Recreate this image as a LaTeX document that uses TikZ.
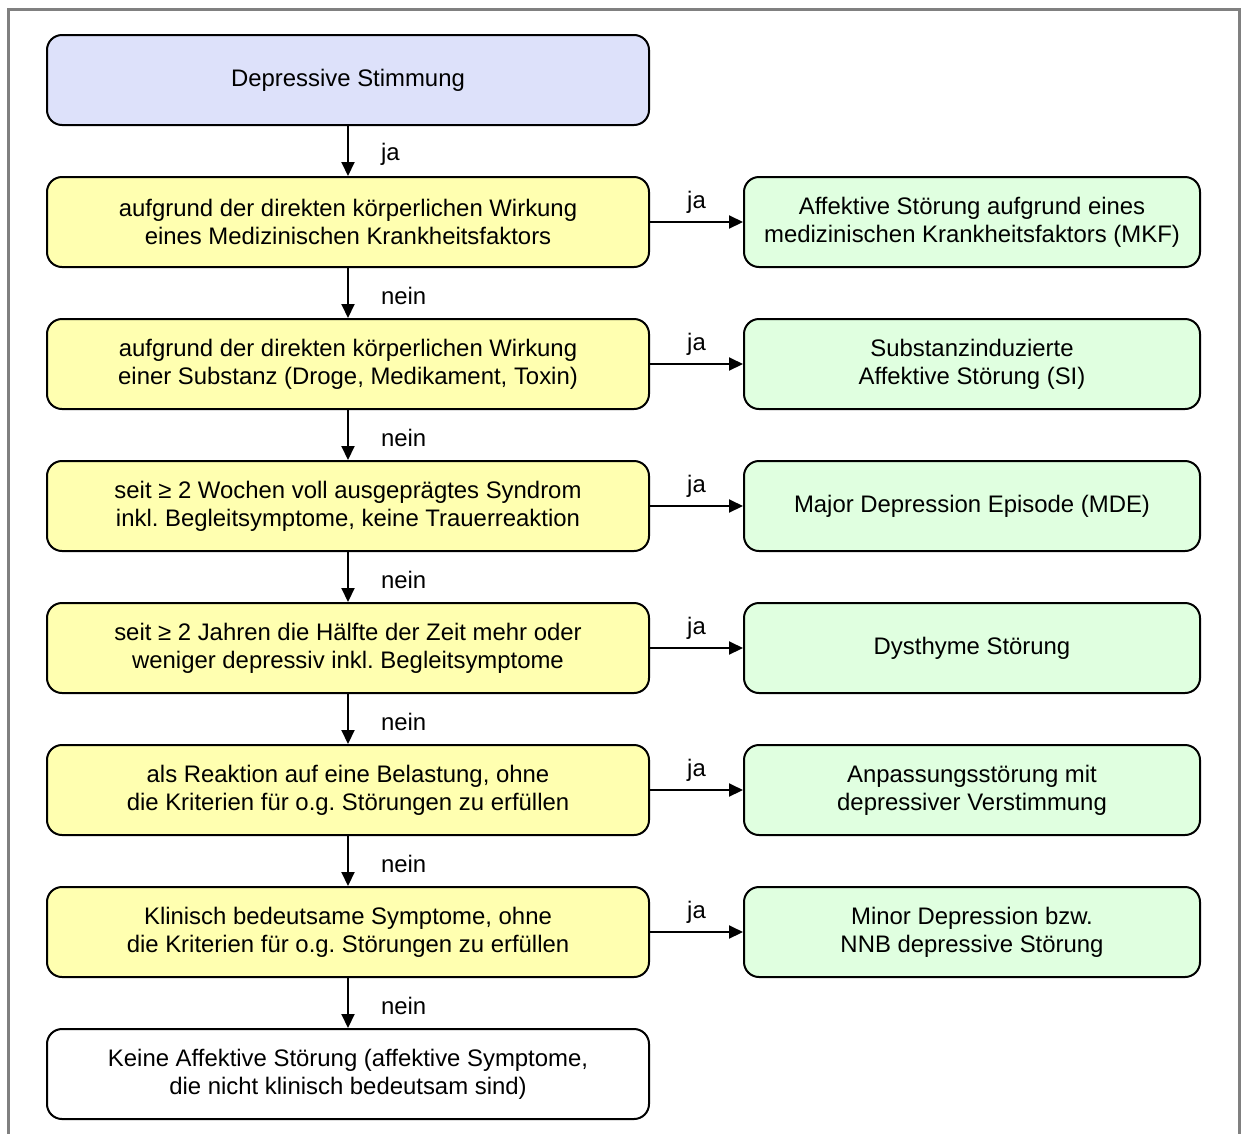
\documentclass[tikz,border=0pt]{standalone}
\usepackage{fontspec}
\setmainfont{Liberation Sans}
\frenchspacing
\usetikzlibrary{arrows.meta}
\definecolor{startblue}{RGB}{221,225,250}
\definecolor{qyellow}{RGB}{255,255,176}
\definecolor{resgreen}{RGB}{224,255,224}
\definecolor{framegrey}{RGB}{128,128,128}
\tikzset{
  box/.style={draw=black, line width=2pt, rounded corners=15pt, minimum height=90pt,
    align=center, font=\fontsize{23.9}{28}\selectfont, inner sep=0pt},
  leftbox/.style={box, minimum width=602pt},
  rightbox/.style={box, minimum width=456pt, fill=resgreen},
  question/.style={leftbox, fill=qyellow},
  arr/.style={line width=2pt, -{Triangle[length=14pt,width=13pt]}},
  lbl/.style={font=\fontsize{23.9}{28}\selectfont, inner sep=0pt},
  vlbl/.style={lbl, right=32pt, yshift=-3pt},
  hlbl/.style={lbl, above=8pt}
}
\begin{document}
\begin{tikzpicture}[x=1pt,y=-1pt]
\useasboundingbox (0,0) rectangle (1241,1133);
\draw[framegrey, line width=3pt] (8,1140) -- (8,9) -- (1239.5,9) -- (1239.5,1140);
\node[leftbox, fill=startblue] (s) at (348,80) {Depressive Stimmung};
\node[question] (q1) at (348,222) {aufgrund der direkten körperlichen Wirkung\\eines Medizinischen Krankheitsfaktors};
\node[question] (q2) at (348,364) {aufgrund der direkten körperlichen Wirkung\\einer Substanz (Droge, Medikament, Toxin)};
\node[question] (q3) at (348,506) {seit ≥ 2 Wochen voll ausgeprägtes Syndrom\\inkl. Begleitsymptome, keine Trauerreaktion};
\node[question] (q4) at (348,648) {seit ≥ 2 Jahren die Hälfte der Zeit mehr oder\\weniger depressiv inkl. Begleitsymptome};
\node[question] (q5) at (348,790) {als Reaktion auf eine Belastung, ohne\\die Kriterien für o.g. Störungen zu erfüllen};
\node[question] (q6) at (348,932) {Klinisch bedeutsame Symptome, ohne\\die Kriterien für o.g. Störungen zu erfüllen};
\node[leftbox, fill=white] (e) at (348,1074) {Keine Affektive Störung (affektive Symptome,\\die nicht klinisch bedeutsam sind)};
\node[rightbox] (r1) at (972,222) {Affektive Störung aufgrund eines\\medizinischen Krankheitsfaktors (MKF)};
\node[rightbox] (r2) at (972,364) {Substanzinduzierte\\Affektive Störung (SI)};
\node[rightbox] (r3) at (972,506) {Major Depression Episode (MDE)};
\node[rightbox] (r4) at (972,648) {Dysthyme Störung};
\node[rightbox] (r5) at (972,790) {Anpassungsstörung mit\\depressiver Verstimmung};
\node[rightbox] (r6) at (972,932) {Minor Depression bzw.\\NNB depressive Störung};
\draw[arr] (s) -- node[vlbl] {ja} (q1);
\draw[arr] (q1) -- node[vlbl] {nein} (q2);
\draw[arr] (q2) -- node[vlbl] {nein} (q3);
\draw[arr] (q3) -- node[vlbl] {nein} (q4);
\draw[arr] (q4) -- node[vlbl] {nein} (q5);
\draw[arr] (q5) -- node[vlbl] {nein} (q6);
\draw[arr] (q6) -- node[vlbl] {nein} (e);
\foreach \i in {1,...,6}{
  \draw[arr] (q\i) -- node[hlbl] {ja} (r\i);
}
\end{tikzpicture}
\end{document}
